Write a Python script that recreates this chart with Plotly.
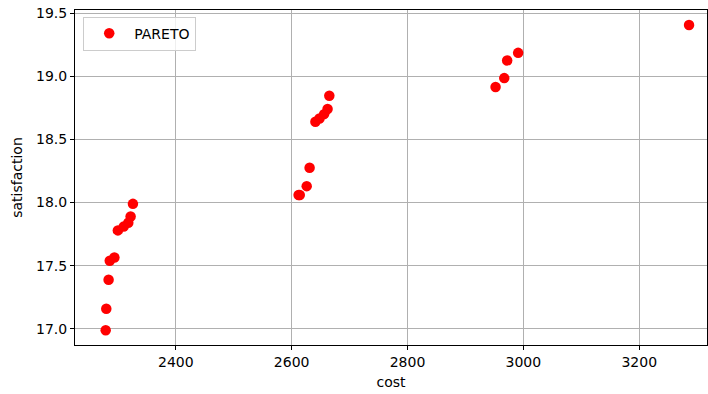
import plotly.graph_objects as go

cost = [2279, 2280, 2284, 2286, 2294, 2300, 2310, 2318, 2322, 2326,
        2612, 2614, 2626, 2631, 2641, 2648, 2656, 2662, 2665,
        2952, 2967, 2972, 2991, 3286]
satisfaction = [16.99, 17.16, 17.39, 17.54, 17.565, 17.78, 17.81, 17.84, 17.89, 17.99,
                18.06, 18.06, 18.13, 18.275, 18.64, 18.665, 18.70, 18.74, 18.845,
                18.915, 18.985, 19.125, 19.185, 19.405]

x_ticks = [2400, 2600, 2800, 3000, 3200]
y_ticks = [17.0, 17.5, 18.0, 18.5, 19.0, 19.5]

font = "DejaVu Sans, sans-serif"

fig = go.Figure()
fig.add_trace(go.Scatter(
    x=cost, y=satisfaction, mode="markers", name="PARETO",
    marker=dict(color="red", size=10.5, line=dict(width=0)),
))

axis_common = dict(
    showgrid=True, gridcolor="#b0b0b0", gridwidth=1,
    showline=True, linecolor="black", linewidth=1, mirror=True,
    ticks="outside", ticklen=4, tickcolor="black", tickwidth=1,
    zeroline=False, automargin=False, ticklabeloverflow="allow",
    tickfont=dict(family=font, size=14, color="black"),
)

fig.update_layout(
    width=708, height=394,
    margin=dict(l=75, r=1, t=10, b=49, autoexpand=False),
    paper_bgcolor="white", plot_bgcolor="white",
    font=dict(family=font, size=14, color="black"),
    xaxis=dict(range=[2226, 3317], tickvals=x_ticks,
               ticktext=[str(v) for v in x_ticks],
               title=dict(text="cost", font=dict(family=font, size=14), standoff=8),
               **axis_common),
    yaxis=dict(range=[16.873, 19.524], tickvals=y_ticks,
               ticktext=[f"{v:.1f}" for v in y_ticks],
               title=dict(text="satisfaction", font=dict(family=font, size=14), standoff=10),
               **axis_common),
    showlegend=True,
    legend=dict(x=0.013, y=0.98, xanchor="left", yanchor="top",
                bgcolor="rgba(255,255,255,0.8)", bordercolor="#cccccc", borderwidth=1,
                font=dict(family=font, size=14), itemwidth=40),
)

fig.write_html(
    "out.html",
    config={"displayModeBar": False},
    post_script="document.body.style.margin='0';document.body.style.overflow='hidden';",
)
